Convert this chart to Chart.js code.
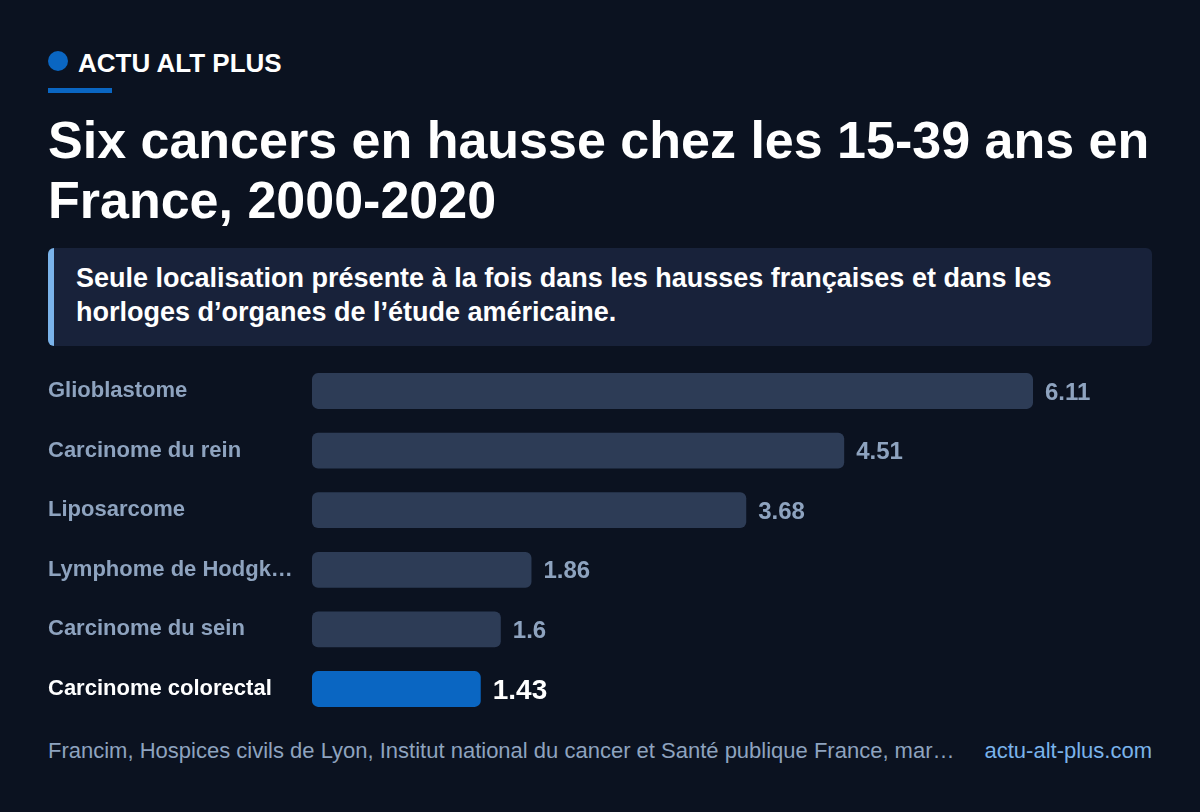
<!DOCTYPE html>
<html><head><meta charset="utf-8">
<script src="https://cdn.jsdelivr.net/npm/chart.js@4.4.1/dist/chart.umd.min.js"></script>
<style>
html,body{margin:0;padding:0;background:#0b1220;}
body{width:1200px;height:812px;position:relative;overflow:hidden;font-family:"Liberation Sans",Arial,sans-serif;color:#fff;}
.brand{position:absolute;left:48px;top:48px;display:flex;align-items:center;}
.dot{width:20px;height:20px;border-radius:50%;background:#0a66c2;margin-right:10px;margin-top:-6px;}
.brand span{font-weight:700;font-size:26px;}
.rule{position:absolute;left:48px;top:88px;width:64px;height:5px;background:#0a66c2;}
h1{position:absolute;left:48px;top:110px;margin:0;width:1120px;font-size:52px;line-height:60px;font-weight:700;}
.note{position:absolute;left:48px;top:248px;width:1104px;height:98px;box-sizing:border-box;background:#18223a;border-left:6px solid #7ab3ea;border-radius:6px;padding:13px 20px 0 22px;font-weight:700;font-size:27px;line-height:34px;}
#wrap{position:absolute;left:48px;top:348px;width:1104px;height:384px;}
.foot{position:absolute;left:48px;top:738px;width:1104px;font-size:22px;color:#8ea3bf;display:flex;justify-content:space-between;}
.src{white-space:nowrap;overflow:hidden;text-overflow:ellipsis;flex:1;margin-right:24px;}
.link{color:#7ab3ea;white-space:nowrap;}
</style></head>
<body>
<div class="brand"><div class="dot"></div><span>ACTU ALT PLUS</span></div>
<div class="rule"></div>
<h1>Six cancers en hausse chez les 15-39 ans en France, 2000-2020</h1>
<div class="note">Seule localisation présente à la fois dans les hausses françaises et dans les horloges d’organes de l’étude américaine.</div>
<div id="wrap"><canvas id="c"></canvas></div>
<div class="foot"><div class="src">Francim, Hospices civils de Lyon, Institut national du cancer et Santé publique France, mars 2024</div><div class="link">actu-alt-plus.com</div></div>
<script>
const categories = ["Glioblastome","Carcinome du rein","Liposarcome","Lymphome de Hodgkin","Carcinome du sein","Carcinome colorectal"];
const values = [6.11,4.51,3.68,1.86,1.6,1.43];
const highlight = [false,false,false,false,false,true];
const valueLabels = ["6.11","4.51","3.68","1.86","1.6","1.43"];

const FONT = '"Liberation Sans", Arial, sans-serif';
const valuePlugin = {
  id:'vals',
  afterDatasetsDraw(chart){
    const ctx = chart.ctx;
    const meta = chart.getDatasetMeta(0);
    meta.data.forEach((bar,i)=>{
      ctx.save();
      ctx.textBaseline='middle';
      ctx.textAlign='left';
      if(highlight[i]){ctx.fillStyle='#ffffff';ctx.font='bold 28px '+FONT;}
      else {ctx.fillStyle='#8ea3bf';ctx.font='bold 24px '+FONT;}
      ctx.fillText(valueLabels[i], bar.x+12, bar.y+2);
      ctx.restore();
    });
  }
};
function trunc(ctx,s,limit,maxW){
  if(ctx.measureText(s).width<=limit) return s;
  while(s.length && ctx.measureText(s+'…').width>maxW) s=s.slice(0,-1);
  return s+'…';
}
const mctx=document.createElement('canvas').getContext('2d');
mctx.font='bold 22px '+FONT;

new Chart(document.getElementById('c'),{
  type:'bar',
  data:{labels:categories,datasets:[{
    data:values,
    backgroundColor:highlight.map(h=>h?'#0a66c2':'#2d3c56'),
    borderRadius:6,borderSkipped:false,
    barPercentage:0.6,categoryPercentage:1
  }]},
  options:{
    indexAxis:'y',responsive:true,maintainAspectRatio:false,animation:false,
    layout:{padding:{left:0,right:14,top:0,bottom:0}},
    plugins:{legend:{display:false},tooltip:{enabled:false}},
    scales:{
      x:{min:0,max:7,display:false,grid:{display:false}},
      y:{
        grid:{display:false},border:{display:false},
        afterFit(s){s.width=264;},
        ticks:{
          crossAlign:'far',padding:0,
          font:(c)=>({family:FONT,size:22,weight:'bold'}),
          color:(c)=>highlight[c.index]?'#ffffff':'#8ea3bf',
          callback:(v,i)=>trunc(mctx,categories[i],236,250)
        }
      }
    }
  },
  plugins:[valuePlugin]
});
</script>
</body></html>
